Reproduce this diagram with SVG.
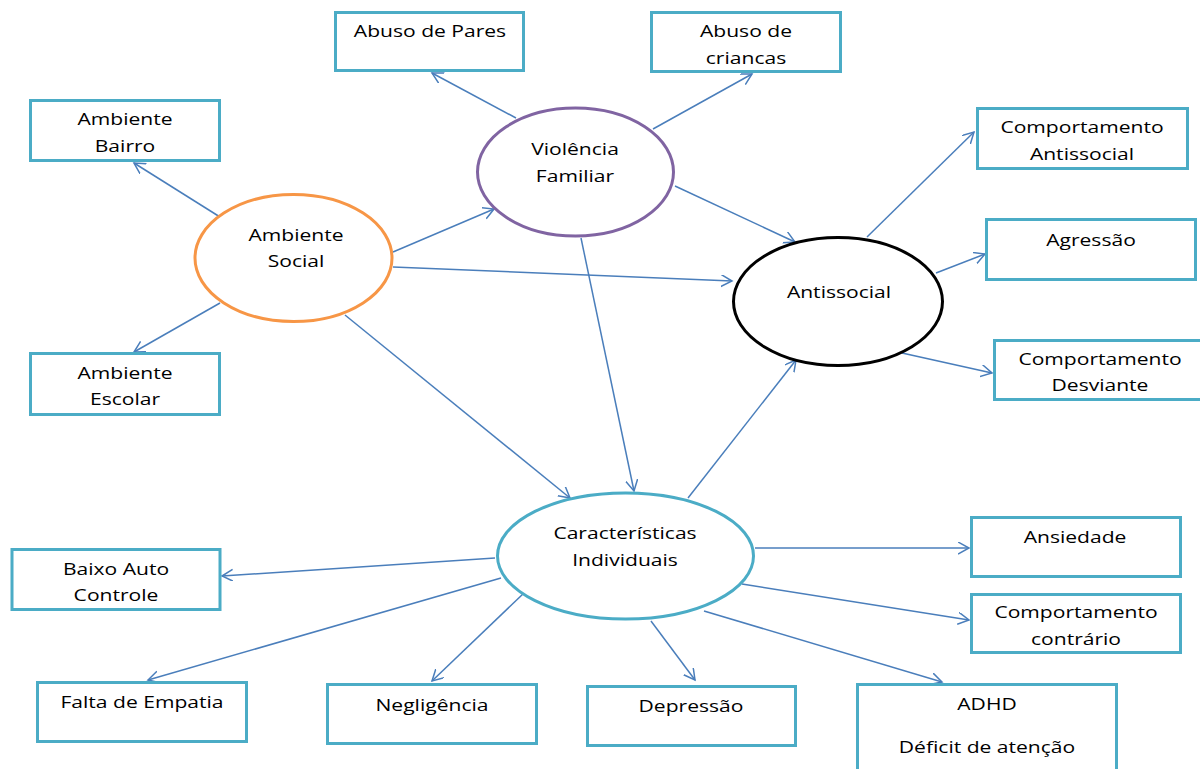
<svg xmlns="http://www.w3.org/2000/svg" width="1200" height="769" viewBox="0 0 1200 769">
<style>
.box{fill:#fff;stroke:#4BACC6;stroke-width:3}
.ell{fill:#fff;stroke-width:3}
.lbl{font-family:"Open Sans","Liberation Sans",sans-serif;font-size:17px;fill:#000;text-anchor:middle}
.con{stroke:#4A7EBB;stroke-width:1.5;fill:none;marker-end:url(#arr)}
</style>
<defs>
<marker id="arr" markerUnits="userSpaceOnUse" markerWidth="14" markerHeight="14" refX="11" refY="6" orient="auto" viewBox="0 0 14 14">
<path d="M0,0 L11,6 L0,12" fill="none" stroke="#4A7EBB" stroke-width="1.5"/>
</marker>
</defs>
<rect width="1200" height="769" fill="#fff"/>

<g id="connectors">
<line class="con" x1="220" y1="217" x2="134" y2="163"/>
<line class="con" x1="220" y1="303" x2="134" y2="352"/>
<line class="con" x1="393" y1="252" x2="494" y2="209"/>
<line class="con" x1="393" y1="267" x2="732" y2="281"/>
<line class="con" x1="345" y1="315" x2="570" y2="498"/>
<line class="con" x1="516" y1="118" x2="432" y2="73"/>
<line class="con" x1="653" y1="129" x2="752" y2="74"/>
<line class="con" x1="675" y1="186" x2="795" y2="242"/>
<line class="con" x1="581" y1="238" x2="634" y2="491"/>
<line class="con" x1="867" y1="237" x2="974" y2="132"/>
<line class="con" x1="936" y1="273" x2="985" y2="254"/>
<line class="con" x1="902" y1="353" x2="992" y2="373"/>
<line class="con" x1="688" y1="498" x2="796" y2="360"/>
<line class="con" x1="495" y1="558" x2="222" y2="576"/>
<line class="con" x1="501" y1="578" x2="148" y2="680"/>
<line class="con" x1="524" y1="593" x2="432" y2="681"/>
<line class="con" x1="651" y1="621" x2="695" y2="680"/>
<line class="con" x1="755" y1="548" x2="969" y2="548"/>
<line class="con" x1="742" y1="584" x2="969" y2="620"/>
<line class="con" x1="704" y1="611" x2="942" y2="682"/>
</g>

<g id="ambiente-social">
<ellipse class="ell" cx="293.5" cy="258" rx="98.5" ry="63.5" stroke="#F79646"/>
<text class="lbl" transform="translate(296 241) scale(1.24 1)">Ambiente</text>
<text class="lbl" transform="translate(296 267) scale(1.24 1)">Social</text>
</g>
<g id="violencia-familiar">
<ellipse class="ell" cx="575.5" cy="172" rx="98" ry="64" stroke="#8064A2"/>
<text class="lbl" transform="translate(575 155) scale(1.24 1)">Violência</text>
<text class="lbl" transform="translate(575 182) scale(1.24 1)">Familiar</text>
</g>
<g id="antissocial">
<ellipse class="ell" cx="838" cy="301.5" rx="104.5" ry="64" stroke="#000"/>
<text class="lbl" transform="translate(839 298) scale(1.24 1)">Antissocial</text>
</g>
<g id="caracteristicas">
<ellipse class="ell" cx="625.5" cy="556" rx="128" ry="63" stroke="#4BACC6" stroke-width="4"/>
<text class="lbl" transform="translate(625 539) scale(1.24 1)">Características</text>
<text class="lbl" transform="translate(625 566) scale(1.24 1)">Individuais</text>
</g>

<g id="abuso-pares">
<rect class="box" x="335.5" y="12.5" width="188" height="58"/>
<text class="lbl" transform="translate(430 37) scale(1.24 1)">Abuso de Pares</text>
</g>
<g id="abuso-criancas">
<rect class="box" x="651.5" y="12.5" width="189" height="59"/>
<text class="lbl" transform="translate(746 37) scale(1.24 1)">Abuso de</text>
<text class="lbl" transform="translate(746 64) scale(1.24 1)">criancas</text>
</g>
<g id="ambiente-bairro">
<rect class="box" x="30.5" y="100.5" width="189" height="60"/>
<text class="lbl" transform="translate(125 125) scale(1.24 1)">Ambiente</text>
<text class="lbl" transform="translate(125 152) scale(1.24 1)">Bairro</text>
</g>
<g id="ambiente-escolar">
<rect class="box" x="30.5" y="353.5" width="189" height="61"/>
<text class="lbl" transform="translate(125 379) scale(1.24 1)">Ambiente</text>
<text class="lbl" transform="translate(125 405) scale(1.24 1)">Escolar</text>
</g>
<g id="comp-antissocial">
<rect class="box" x="977.5" y="108.5" width="210" height="60"/>
<text class="lbl" transform="translate(1082 133) scale(1.24 1)">Comportamento</text>
<text class="lbl" transform="translate(1082 160) scale(1.24 1)">Antissocial</text>
</g>
<g id="agressao">
<rect class="box" x="986.5" y="219.5" width="209" height="60"/>
<text class="lbl" transform="translate(1091 246) scale(1.24 1)">Agressão</text>
</g>
<g id="comp-desviante">
<rect class="box" x="994.5" y="340.5" width="210" height="59"/>
<text class="lbl" transform="translate(1100 365) scale(1.24 1)">Comportamento</text>
<text class="lbl" transform="translate(1100 391) scale(1.24 1)">Desviante</text>
</g>
<g id="baixo-auto-controle">
<rect class="box" x="12" y="549.5" width="208" height="60"/>
<text class="lbl" transform="translate(116 575) scale(1.24 1)">Baixo Auto</text>
<text class="lbl" transform="translate(116 601) scale(1.24 1)">Controle</text>
</g>
<g id="falta-empatia">
<rect class="box" x="37.5" y="682.5" width="209" height="59"/>
<text class="lbl" transform="translate(142 708) scale(1.24 1)">Falta de Empatia</text>
</g>
<g id="negligencia">
<rect class="box" x="327.5" y="684.5" width="209" height="59"/>
<text class="lbl" transform="translate(432 711) scale(1.24 1)">Negligência</text>
</g>
<g id="depressao">
<rect class="box" x="587.5" y="686.5" width="208" height="59"/>
<text class="lbl" transform="translate(691 712) scale(1.24 1)">Depressão</text>
</g>
<g id="ansiedade">
<rect class="box" x="971.5" y="517.5" width="209" height="59"/>
<text class="lbl" transform="translate(1075 543) scale(1.24 1)">Ansiedade</text>
</g>
<g id="comp-contrario">
<rect class="box" x="971.5" y="594.5" width="209" height="58"/>
<text class="lbl" transform="translate(1076 618) scale(1.24 1)">Comportamento</text>
<text class="lbl" transform="translate(1076 645) scale(1.24 1)">contrário</text>
</g>
<g id="adhd">
<rect class="box" x="857.5" y="684.5" width="259" height="100"/>
<text class="lbl" transform="translate(987 710) scale(1.24 1)">ADHD</text>
<text class="lbl" transform="translate(987 753) scale(1.24 1)">Déficit de atenção</text>
</g>
</svg>
